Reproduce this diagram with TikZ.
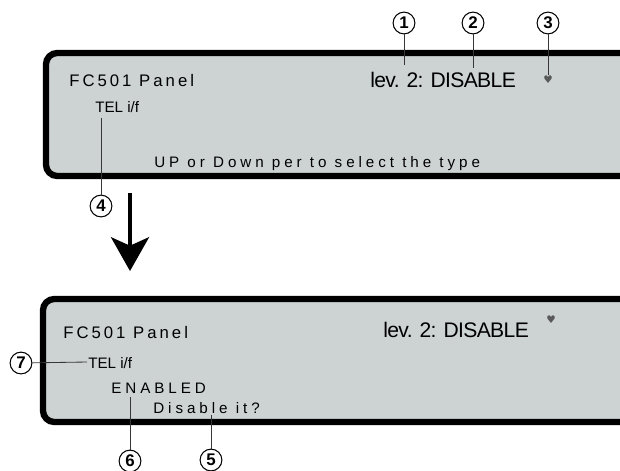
\documentclass[tikz,border=0pt]{standalone}
\usepackage{fontspec}
\setmainfont{Liberation Sans}
\newfontfamily\lcdfont[LetterSpace=26]{Liberation Sans}
\newfontfamily\titlefont[LetterSpace=18]{Liberation Sans}
\newfontfamily\levfont[LetterSpace=-3]{Liberation Sans}
\newfontfamily\symfont{DejaVu Sans}
\usetikzlibrary{arrows.meta}
\definecolor{mygray}{RGB}{205,211,211}
\definecolor{myline}{RGB}{55,55,55}

\begin{document}
\begin{tikzpicture}[x=0.025cm, y=-0.025cm,
  panel/.style={draw=black, line width=4.5pt, fill=mygray, rounded corners=8pt},
  num/.style={circle, draw=black, line width=0.75pt, fill=white, inner sep=0pt,
    minimum size=15.5pt, font=\fontsize{12}{12}\selectfont\bfseries},
  lead/.style={draw=myline, line width=0.6pt},
  txt/.style={anchor=base west, inner sep=0pt},
  title/.style={txt, font=\titlefont\fontsize{11.9}{12}\selectfont},
  lcd/.style={txt, font=\lcdfont\fontsize{10.8}{12}\selectfont},
  lev/.style={txt, font=\levfont\fontsize{15}{16}\selectfont},
  tel/.style={txt, font=\fontsize{10.8}{12}\selectfont},
  heart/.style={inner sep=0pt, text=gray!70!black, font=\symfont\fontsize{7.5}{7.5}\selectfont}]
  \useasboundingbox (0,0) rectangle (620,470);
  \clip (0,0) rectangle (620,470);

  % upper display
  \draw[panel] (46,53) rectangle (660,176);
  \node[title] (name1) at (69,86) {FC501 Panel};
  \node[lev] (lev1) at (370,87) {lev. 2: DISABLE};
  \node[heart] (sym1) at (548,80) {♥};
  \node[tel] (tel1) at (95,112) {TEL i/f};
  \node[lcd] (hint1) at (154,167) {UP or Down per to select the type};

  % lower display
  \draw[panel] (43,299) rectangle (660,422);
  \node[title] (name2) at (63,338) {FC501 Panel};
  \node[lev] (lev2) at (383,337) {lev. 2: DISABLE};
  \node[heart] (sym2) at (551,320) {♥};
  \node[tel] (tel2) at (88,368) {TEL i/f};
  \node[lcd] (state2) at (111,393) {ENABLED};
  \node[lcd] (ask2) at (153,413) {Disable it?};

  % callouts
  \node[num] (n1) at (404,23) {1};
  \node[num] (n2) at (473,23) {2};
  \node[num] (n3) at (548,23) {3};
  \node[num] (n4) at (101,206) {4};
  \node[num] (n5) at (211,460) {5};
  \node[num] (n6) at (130,461) {6};
  \node[num] (n7) at (21,363) {7};
  \coordinate (p1) at (404,65);
  \coordinate (p2) at (473,68);
  \coordinate (p3) at (548,75);
  \coordinate (p4) at (101,118);
  \coordinate (p5) at (211,415);
  \coordinate (p6) at (130,397);
  \coordinate (p7) at (87,362);
  \draw[lead] (n1) -- (p1);
  \draw[lead] (n2) -- (p2);
  \draw[lead] (n3) -- (p3);
  \draw[lead] (n4) -- (p4);
  \draw[lead] (n5) -- (p5);
  \draw[lead] (n6) -- (p6);
  \draw[lead] (n7) -- (p7);

  % step arrow
  \coordinate (arrtop) at (130,193);
  \coordinate (arrtip) at (130,271);
  \draw[line width=2.8pt, -{Stealth[length=24pt, width=27pt, inset=6pt]}] (arrtop) -- (arrtip);
\end{tikzpicture}
\end{document}
